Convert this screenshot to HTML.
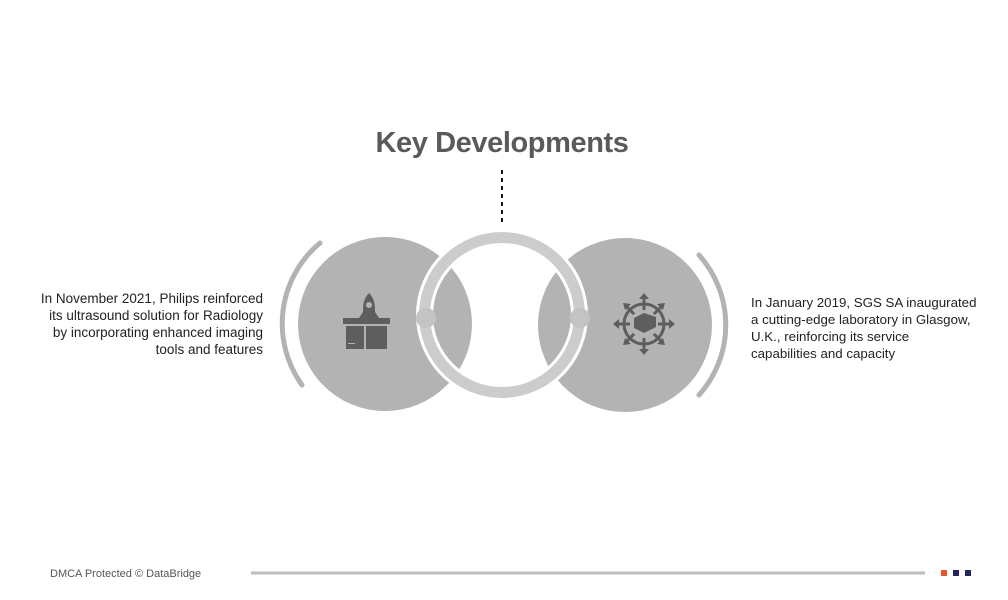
<!DOCTYPE html>
<html><head><meta charset="utf-8"><style>
html,body{margin:0;padding:0;background:#fff;}
body{width:1008px;height:600px;position:relative;overflow:hidden;font-family:"Liberation Sans",sans-serif;}
.t{position:absolute;font-size:13.5px;line-height:17px;color:#222;white-space:nowrap;}
</style></head><body>
<svg width="1008" height="600" style="position:absolute;left:0;top:0">
<text x="502" y="152" text-anchor="middle" font-family="Liberation Sans" font-weight="bold" font-size="29" fill="#5a5a5a" letter-spacing="-0.4">Key Developments</text>
<line x1="502" y1="170" x2="502" y2="226" stroke="#111" stroke-width="2" stroke-dasharray="4,4"/>
<circle cx="385" cy="324" r="87" fill="#b3b3b3"/>
<circle cx="625" cy="325" r="87" fill="#b3b3b3"/>
<path d="M320,243 A105,105 0 0 0 302,385" fill="none" stroke="#b3b3b3" stroke-width="5" stroke-linecap="round"/>
<path d="M699,255 A105,105 0 0 1 699,395" fill="none" stroke="#b3b3b3" stroke-width="5" stroke-linecap="round"/>
<circle cx="502" cy="315" r="77.5" fill="none" stroke="#fff" stroke-width="17"/>
<circle cx="502" cy="315" r="77.5" fill="none" stroke="#cccccc" stroke-width="11"/>
<circle cx="426" cy="318" r="10" fill="#c3c3c3"/>
<circle cx="580" cy="318" r="10" fill="#c3c3c3"/>
<g fill="#5e5e5e">
<path d="M369,293 q-6,6 -6,16 v10 h12 v-10 q0,-10 -6,-16z"/>
<circle cx="369" cy="305" r="3" fill="#b3b3b3"/>
<path d="M363,312 l-4,6 h4z M375,312 l4,6 h-4z"/>
<rect x="343" y="318" width="47" height="6"/>
<rect x="346" y="326" width="18" height="23"/>
<rect x="366" y="326" width="21" height="23"/>
</g>
<rect x="348" y="343" width="7" height="1" fill="#b3b3b3"/>
<g stroke="#5e5e5e" fill="none" stroke-width="3">
<circle cx="644" cy="324" r="20"/>
<line x1="644" y1="298" x2="644" y2="350"/><line x1="618" y1="324" x2="670" y2="324"/>
<line x1="626" y1="306" x2="662" y2="342"/><line x1="662" y1="306" x2="626" y2="342"/>
</g>
<circle cx="644" cy="324" r="14" fill="#b3b3b3"/>
<g fill="#5e5e5e">
<path d="M644,293 l-5,6 h10z M644,355 l-5,-6 h10z M613,324 l6,-5 v10z M675,324 l-6,-5 v10z"/>
<path d="M623,303 l8,1 l-6,6z M665,303 l-8,1 l6,6z M623,345 l8,-1 l-6,-6z M665,345 l-8,-1 l6,-6z"/>
<path d="M634,318 l10,-5 l12,4 v10 l-12,6 l-10,-5z"/>
</g>
<line x1="251" y1="573" x2="925" y2="573" stroke="#bdbdbd" stroke-width="3"/>
<rect x="941" y="570" width="6" height="6" fill="#e8552a"/>
<rect x="953" y="570" width="6" height="6" fill="#24245e"/>
<rect x="965" y="570" width="6" height="6" fill="#24245e"/>
<text x="50" y="577" font-family="Liberation Sans" font-size="11" fill="#555">DMCA Protected © DataBridge</text>
</svg>
<div class="t" style="right:745px;top:290px;text-align:right;width:260px;">In November 2021, Philips reinforced<br>its ultrasound solution for Radiology<br>by incorporating enhanced imaging<br>tools and features</div>
<div class="t" style="left:751px;top:294px;width:250px;font-size:13.3px;">In January 2019, SGS SA inaugurated<br>a cutting-edge laboratory in Glasgow,<br>U.K., reinforcing its service<br>capabilities and capacity</div>
</body></html>
